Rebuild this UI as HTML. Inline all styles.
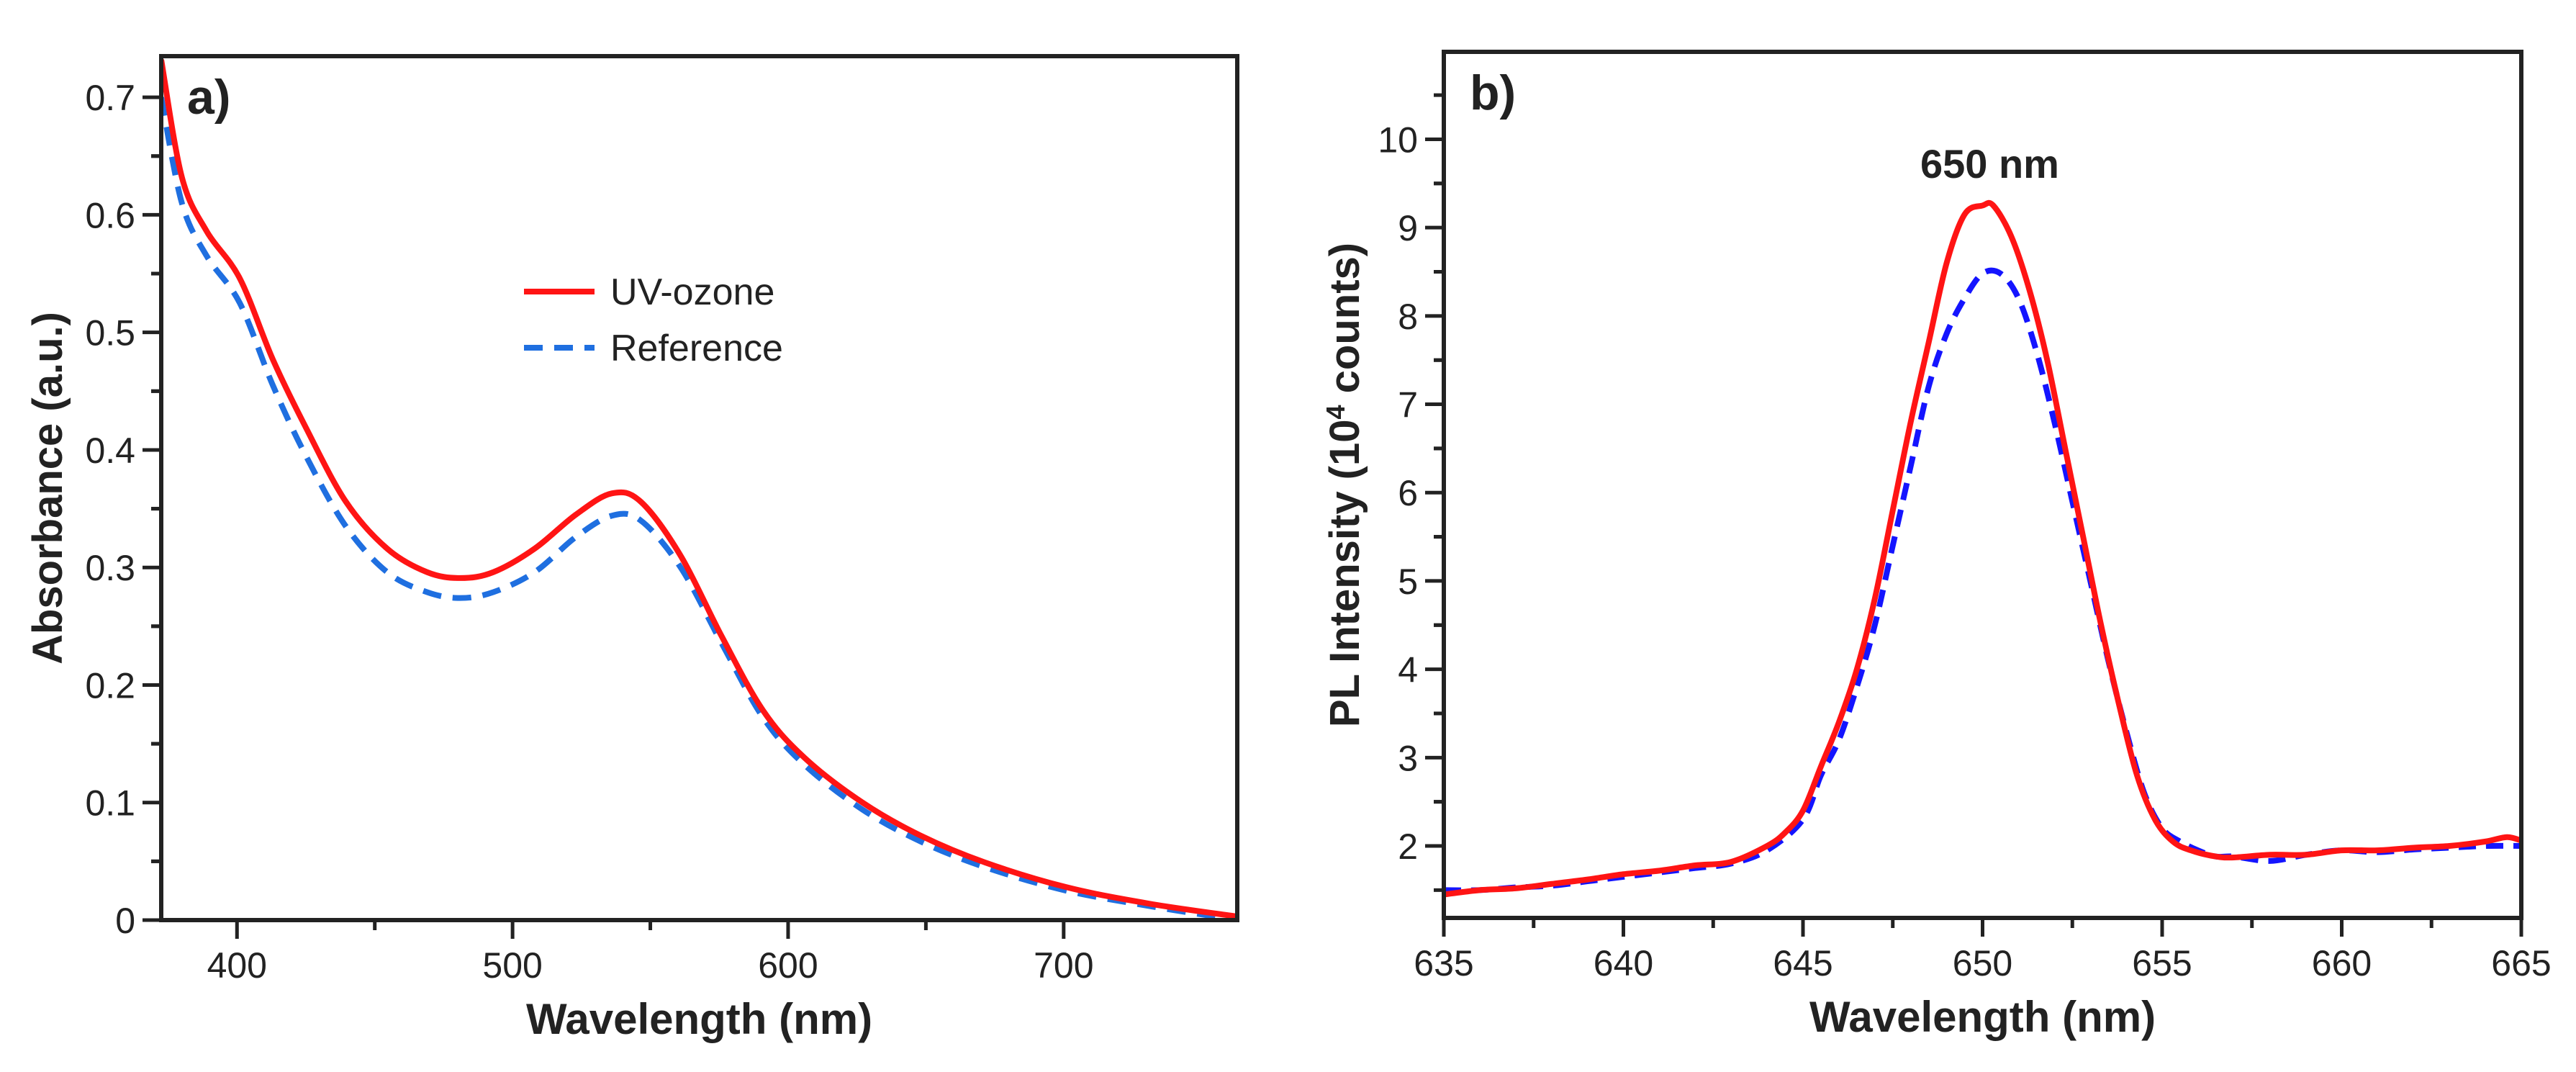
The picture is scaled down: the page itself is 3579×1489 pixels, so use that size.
<!DOCTYPE html>
<html><head><meta charset="utf-8"><style>
html,body{margin:0;padding:0;background:#fff}
svg text{font-family:"Liberation Sans",Arial,sans-serif;fill:#222}
</style></head><body>
<svg id="fig" width="3579" height="1484" viewBox="0 0 3579 1484" xmlns="http://www.w3.org/2000/svg">
<g id="pa"></g>
<g id="pb"></g>
</svg>
<script>
// Panel a data
const aX = [372.5,380,389,401,413,425,439.5,454.5,469,481,493,508,523,536,546.5,561,576,591,606,627,648,671.5,701,731,763];
const aUV = [0.732,0.632,0.586,0.546,0.477,0.419,0.356,0.316,0.296,0.291,0.296,0.316,0.345,0.363,0.356,0.31,0.241,0.178,0.138,0.10,0.072,0.049,0.028,0.014,0.003];
const aRefX = [372.5,380,389,401,413,425,439.5,454.5,469,481,493,508,523,536,546.5,561,576,591,606,627,648,671.5,701,731,755];
const aRef = [0.70,0.61,0.565,0.525,0.455,0.395,0.335,0.296,0.279,0.274,0.279,0.296,0.326,0.344,0.34,0.3,0.235,0.172,0.132,0.094,0.067,0.045,0.025,0.012,0.003];
const aXTicks = [400,500,600,700];
const aYTicks = [0,0.1,0.2,0.3,0.4,0.5,0.6,0.7];
const aYLabels = ["0","0.1","0.2","0.3","0.4","0.5","0.6","0.7"];
// Panel b data
const bX = [635,636,637,638,639,640,641,642,643,644,644.5,645,645.5,646,646.5,647,647.5,648,648.5,649,649.5,650,650.3,650.8,651.3,651.8,652.3,652.8,653.3,653.8,654.3,654.8,655.3,655.8,656.5,657,658,659,660,661,662,663,664,664.6,665];
const bUV = [1.45,1.5,1.52,1.57,1.62,1.68,1.72,1.78,1.82,2.0,2.15,2.4,2.9,3.4,4.0,4.8,5.8,6.8,7.7,8.6,9.15,9.25,9.25,8.9,8.3,7.5,6.5,5.5,4.5,3.6,2.8,2.3,2.05,1.95,1.88,1.87,1.9,1.9,1.95,1.95,1.98,2.0,2.05,2.1,2.06];
const bRefX = [635,636,637,638,639,640,641,642,643,644,645,645.5,646,646.5,647,647.5,648,648.5,649,649.5,650,650.5,651,651.5,652,652.5,653,653.5,654,654.5,655,655.5,656,656.5,657,658,659,660,661,662,663,664,665];
const bRef = [1.5,1.5,1.53,1.55,1.6,1.65,1.7,1.75,1.8,1.95,2.3,2.8,3.2,3.8,4.5,5.4,6.3,7.2,7.8,8.2,8.48,8.48,8.2,7.6,6.8,5.9,5.0,4.1,3.3,2.6,2.2,2.05,1.95,1.88,1.88,1.83,1.9,1.95,1.93,1.96,1.98,2.0,2.0];
const bXTicks = [635,640,645,650,655,660,665];
const bYTicks = [2,3,4,5,6,7,8,9,10];

const NS="http://www.w3.org/2000/svg";
function mk(tag,attrs,parent){const e=document.createElementNS(NS,tag);for(const k in attrs)e.setAttribute(k,attrs[k]);parent.appendChild(e);return e;}
function smooth(pts){let d="M"+pts[0][0]+","+pts[0][1];for(let i=0;i<pts.length-1;i++){const p0=pts[Math.max(0,i-1)],p1=pts[i],p2=pts[i+1],p3=pts[Math.min(pts.length-1,i+2)];
const c1=[p1[0]+(p2[0]-p0[0])/6,p1[1]+(p2[1]-p0[1])/6],c2=[p2[0]-(p3[0]-p1[0])/6,p2[1]-(p3[1]-p1[1])/6];d+=" C"+c1[0]+","+c1[1]+" "+c2[0]+","+c2[1]+" "+p2[0]+","+p2[1];}return d;}

function panel(g,o){
  const sx=v=>o.L+(v-o.x0)/(o.x1-o.x0)*(o.R-o.L);
  const sy=v=>o.B-(v-o.y0)/(o.y1-o.y0)*(o.B-o.T);
  const clip=mk('clipPath',{id:o.id+'clip'},g);mk('rect',{x:o.L,y:o.T,width:o.R-o.L,height:o.B-o.T},clip);
  o.series.forEach(s=>{
    const pts=s.x.map((v,i)=>[sx(v),sy(s.y[i])]);
    const p=mk('path',{d:smooth(pts),fill:'none',stroke:s.color,'stroke-width':8,'stroke-dasharray':s.dash||'none','clip-path':'url(#'+o.id+'clip)'},g);
    
    
  });
  const f=mk('rect',{x:o.L,y:o.T,width:o.R-o.L,height:o.B-o.T,fill:'none',stroke:'#222','stroke-width':6},g);
  
  
  o.xt.forEach((v,i)=>{
    const x=sx(v);
    const t=mk('line',{x1:x,y1:o.B,x2:x,y2:o.B+26,stroke:'#222','stroke-width':5},g);
    
    
    const l=mk('text',{x:x,y:o.B+80,'font-size':50,'text-anchor':'middle'},g);l.textContent=String(v);
    
    
    if(i<o.xt.length-1){const xm=sx(v+o.xm);if(xm<o.R){mk('line',{x1:xm,y1:o.B,x2:xm,y2:o.B+14,stroke:'#222','stroke-width':5},g);}}
    if(i==0){const xm=sx(v-o.xm);if(xm>o.L)mk('line',{x1:xm,y1:o.B,x2:xm,y2:o.B+14,stroke:'#222','stroke-width':5},g);}
  });
  o.yt.forEach((v,i)=>{
    const y=sy(v);
    const t=mk('line',{x1:o.L-26,y1:y,x2:o.L,y2:y,stroke:'#222','stroke-width':5},g);
    
    
    const l=mk('text',{x:o.L-36,y:y+18,'font-size':50,'text-anchor':'end'},g);l.textContent=o.yl?o.yl[i]:String(v);
    
    
    [v-o.ym,v+o.ym].forEach(m=>{const ym=sy(m);if(ym<o.B-2&&ym>o.T+2)mk('line',{x1:o.L-14,y1:ym,x2:o.L,y2:ym,stroke:'#222','stroke-width':5},g);});
  });
  const xt=mk('text',{x:(o.L+o.R)/2,y:o.B+158,'font-size':60,'font-weight':'bold','text-anchor':'middle'},g);xt.textContent="Wavelength (nm)";
  
  
  const yt=mk('text',{x:0,y:0,'font-size':58,'font-weight':'bold','text-anchor':'middle',transform:'translate('+o.ytx+','+((o.T+o.B)/2)+') rotate(-90)'},g);
  yt.innerHTML=o.ytitle;
  
  
  const pl=mk('text',{x:o.L+36,y:o.T+80,'font-size':68,'font-weight':'bold'},g);pl.textContent=o.label;
  
  
  return {sx,sy};
}

const ga=document.getElementById('pa');
panel(ga,{id:'a',L:224,R:1719,T:78,B:1278,x0:372.5,x1:763,y0:0,y1:0.735,xt:aXTicks,xm:50,yt:aYTicks,yl:aYLabels,ym:0.05,ytx:86,ytitle:'Absorbance (a.u.)',label:'a)',
 series:[{name:'reference-curve-a',x:aRefX,y:aRef,color:'#1f6fe0',dash:'26 16'},{name:'uv-ozone-curve-a',x:aX,y:aUV,color:'#ff1414'}]});
const lg=mk('g',{},ga);
mk('line',{x1:728,y1:405,x2:826,y2:405,stroke:'#ff1414','stroke-width':8},lg);
mk('line',{x1:728,y1:483,x2:826,y2:483,stroke:'#1f6fe0','stroke-width':8,'stroke-dasharray':'26 16'},lg);
const t1=mk('text',{x:848,y:423,'font-size':52},lg);t1.textContent='UV-ozone';


const t2=mk('text',{x:848,y:501,'font-size':52},lg);t2.textContent='Reference';



const gb=document.getElementById('pb');
const sb=panel(gb,{id:'b',L:2006,R:3503,T:72,B:1275,x0:635,x1:665,y0:1.185,y1:10.99,xt:bXTicks,xm:2.5,yt:bYTicks,ym:0.5,ytx:1888,ytitle:'PL Intensity (10<tspan baseline-shift="super" font-size="36">4</tspan> counts)',label:'b)',
 series:[{name:'reference-curve-b',x:bRefX,y:bRef,color:'#1414ff',dash:'24 14'},{name:'uv-ozone-curve-b',x:bX,y:bUV,color:'#ff1414'}]});
const ann=mk('text',{x:sb.sx(650.2),y:247,'font-size':56,'font-weight':'bold','text-anchor':'middle'},gb);ann.textContent='650 nm';


</script>
</body></html>
